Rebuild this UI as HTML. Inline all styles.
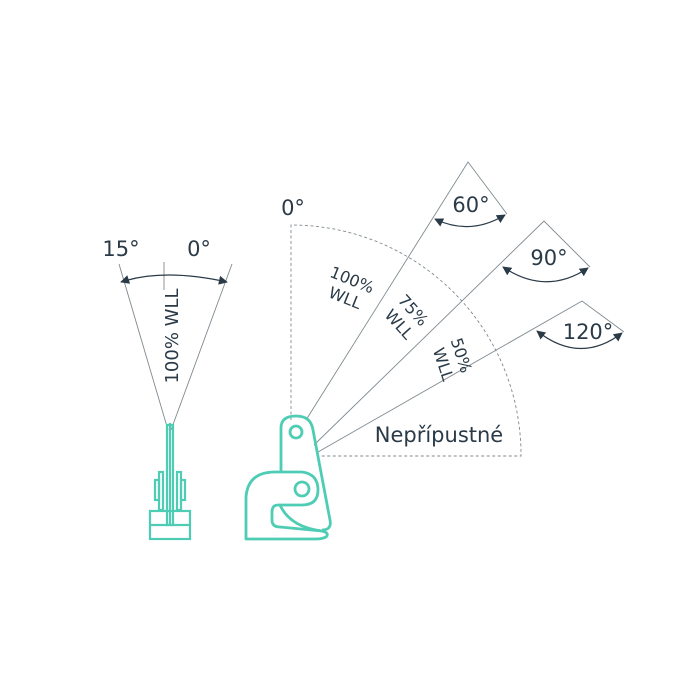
<!DOCTYPE html>
<html><head><style>body{margin:0;background:#fff}svg{display:block}text{font-family:"DejaVu Sans","Liberation Sans",sans-serif;fill:#2a3a47}</style></head>
<body>
<svg width="700" height="700" viewBox="0 0 700 700" xmlns="http://www.w3.org/2000/svg">
<defs>
<marker id="ah" viewBox="0 0 10 10" refX="9" refY="5" markerWidth="9" markerHeight="9" orient="auto-start-reverse" markerUnits="userSpaceOnUse"><path d="M0,0 L10,5 L0,10 z" fill="#2a3a47"/></marker>
</defs>
<g stroke="#7f8a90" stroke-width="0.9" fill="none">
<line x1="168" y1="430" x2="119" y2="264"/>
<line x1="171" y1="430" x2="232" y2="264"/>
<line x1="164" y1="262" x2="164" y2="290"/>
</g>
<path d="M121,282 Q164,268 227,282" stroke="#2a3a47" stroke-width="1.2" fill="none" marker-start="url(#ah)" marker-end="url(#ah)"/>
<text x="121" y="256" font-size="21" text-anchor="middle">15°</text>
<text x="199" y="256" font-size="21" text-anchor="middle">0°</text>
<text transform="translate(178,336) rotate(-90)" font-size="18" text-anchor="middle">100% WLL</text>
<g stroke="#4ecdb4" stroke-width="2.2" fill="none">
<rect x="167" y="425" width="6" height="100"/>
<line x1="170" y1="423" x2="170" y2="525"/>
<rect x="150" y="511" width="40" height="28"/>
<line x1="150" y1="525" x2="190" y2="525"/>
<rect x="159" y="472" width="4" height="38"/>
<rect x="155" y="480" width="4" height="20"/>
<rect x="177" y="472" width="4" height="38"/>
<rect x="181" y="480" width="4" height="20"/>
</g>
<g stroke="#7f8a90" stroke-width="0.9" fill="none">
<path d="M291,420 L291,225 A230,230 0 0 1 521,456 L318,456" stroke-dasharray="3,2.5"/>
<path d="M306,420 L468,162 L507,214"/>
<path d="M314,445 L544,221 L590,267"/>
<path d="M318,452 L582,301 L624,332"/>
</g>
<g stroke="#2a3a47" stroke-width="1.2" fill="none">
<path d="M435,219 Q470,236 505,215" marker-start="url(#ah)" marker-end="url(#ah)"/>
<path d="M503,267 Q546,296 588,268" marker-start="url(#ah)" marker-end="url(#ah)"/>
<path d="M537,331 Q580,365 622,333" marker-start="url(#ah)" marker-end="url(#ah)"/>
</g>
<text x="293" y="215" font-size="21" text-anchor="middle">0°</text>
<text x="471" y="212" font-size="21" text-anchor="middle">60°</text>
<text x="549" y="265" font-size="21" text-anchor="middle">90°</text>
<text x="588" y="339" font-size="21" text-anchor="middle">120°</text>
<text transform="translate(350,285) rotate(22)" font-size="16" text-anchor="middle">100%</text>
<text transform="translate(343,303) rotate(22)" font-size="16" text-anchor="middle">WLL</text>
<text transform="translate(409,314) rotate(48)" font-size="16" text-anchor="middle">75%</text>
<text transform="translate(395,328) rotate(48)" font-size="16" text-anchor="middle">WLL</text>
<text transform="translate(456,357) rotate(72)" font-size="16" text-anchor="middle">50%</text>
<text transform="translate(438,366) rotate(72)" font-size="16" text-anchor="middle">WLL</text>
<text x="439" y="442" font-size="21" text-anchor="middle">Nepřípustné</text>
<g stroke="#4ecdb4" stroke-width="2.8" fill="none" stroke-linejoin="round">
<path d="M281,472 L281,428 Q281,416 296,416 Q311,416 313,430 L330,520 Q332,530 322,530"/>
<circle cx="296" cy="432" r="6"/>
<path d="M246,539 L246,497 Q248,472 275,472 L302,472 Q318,474 318,490 Q318,505 302,505 L278,505 Q272,505 272,512 L272,520 Q272,527 280,527 L322,531 Q330,533 326,537 Q322,539 316,539 Z"/>
<circle cx="302" cy="489" r="7"/>
<path d="M280,505 Q290,527 322,531"/>
</g>
</svg>
</body></html>
